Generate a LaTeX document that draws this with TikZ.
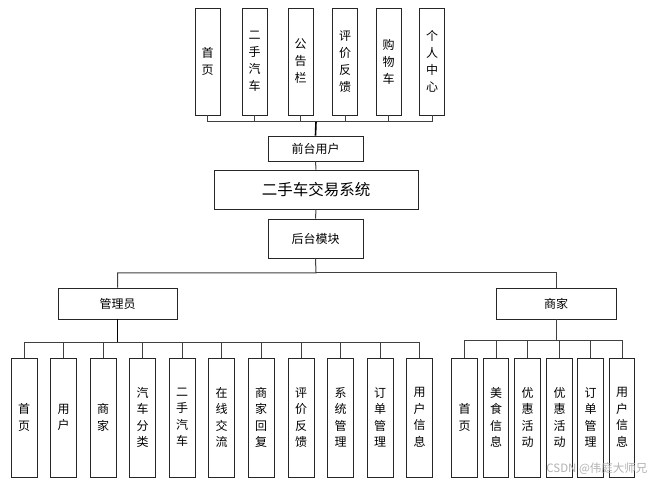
\documentclass[tikz,border=0pt]{standalone}
\usepackage{fontspec}
\setmainfont{Noto Sans CJK SC}
\begin{document}
\begin{tikzpicture}[x=1pt,y=-1pt,
  box/.style={draw=black!85,line width=0.9pt,fill=white,inner sep=0pt,align=center,font=\fontsize{12}{17}\selectfont},
  vbox/.style={box,minimum width=25pt,minimum height=107pt},
  lbox/.style={box,minimum width=26pt,minimum height=119pt,font=\fontsize{12}{16.5}\selectfont},
  mbox/.style={box,minimum width=25.5pt,minimum height=119pt,font=\fontsize{12}{16.5}\selectfont},
  conn/.style={draw=black!75,line width=1pt},
  thk/.style={draw=black,line width=1.6pt}]
\useasboundingbox (0,0) rectangle (657,486);
% top user modules
\node[vbox] (t1) at (207.5,61.5) {首\\页};
\node[vbox] (t2) at (254.5,61.5) {二\\手\\汽\\车};
\node[vbox] (t3) at (300.5,61.5) {公\\告\\栏};
\node[vbox] (t4) at (345,61.5) {评\\价\\反\\馈};
\node[vbox] (t5) at (388.5,61.5) {购\\物\\车};
\node[vbox] (t6) at (432,61.5) {个\\人\\中\\心};
\node[box,minimum width=95pt,minimum height=25pt] (fu) at (315.5,148.5) {前台用户};
\node[box,minimum width=204pt,minimum height=39pt,font=\fontsize{15.5}{18}\selectfont] (sys) at (316,189.5) {二手车交易系统};
\node[box,minimum width=95pt,minimum height=39pt] (hm) at (315.5,238.5) {后台模块};
\node[box,minimum width=119pt,minimum height=31pt] (adm) at (117.5,303.5) {管理员};
\node[box,minimum width=120pt,minimum height=31pt] (mer) at (556,303.5) {商家};
% admin children
\node[lbox] (a1) at (24,417.5) {首\\页};
\node[lbox] (a2) at (63.5,417.5) {用\\户};
\node[lbox] (a3) at (103,417.5) {商\\家};
\node[lbox] (a4) at (142.5,417.5) {汽\\车\\分\\类};
\node[lbox] (a5) at (182,417.5) {二\\手\\汽\\车};
\node[lbox] (a6) at (221.5,417.5) {在\\线\\交\\流};
\node[lbox] (a7) at (261,417.5) {商\\家\\回\\复};
\node[lbox] (a8) at (301,417.5) {评\\价\\反\\馈};
\node[lbox] (a9) at (340.5,417.5) {系\\统\\管\\理};
\node[lbox] (a10) at (380,417.5) {订\\单\\管\\理};
\node[lbox] (a11) at (419.5,417.5) {用\\户\\信\\息};
% merchant children
\node[mbox] (m1) at (464.5,417.5) {首\\页};
\node[mbox] (m2) at (496,417.5) {美\\食\\信\\息};
\node[mbox] (m3) at (527.5,417.5) {优\\惠\\活\\动};
\node[mbox] (m4) at (559.5,417.5) {优\\惠\\活\\动};
\node[mbox] (m5) at (590.5,417.5) {订\\单\\管\\理};
\node[mbox] (m6) at (622,417.5) {用\\户\\信\\息};
% bus coordinates
\coordinate (topbus) at (316,122);
\coordinate (midbus) at (316,273);
\coordinate (admbus) at (117.5,343);
\coordinate (merbus) at (556,341);
% connectors
\foreach \i in {1,...,6} \draw[conn] (t\i.south) |- (topbus);
\draw[thk] (topbus) -- (fu.north);
\draw[conn] (fu.south) -- (sys.north);
\draw[conn] (sys.south) -- (hm.north);
\draw[conn] (hm.south) -- (midbus) -| (adm.north);
\draw[conn] (midbus) -| (mer.north);
\draw[thk] (adm.south) -- (admbus);
\foreach \i in {1,...,11} \draw[conn] (admbus) -| (a\i.north);
\draw[conn] (mer.south) -- (merbus);
\foreach \i in {1,...,6} \draw[conn] (merbus) -| (m\i.north);
\node[text=black!30,font=\fontsize{11.5}{13}\selectfont,anchor=east] (wm) at (651,469) {CSDN @伟庭大师兄};
\end{tikzpicture}
\end{document}
